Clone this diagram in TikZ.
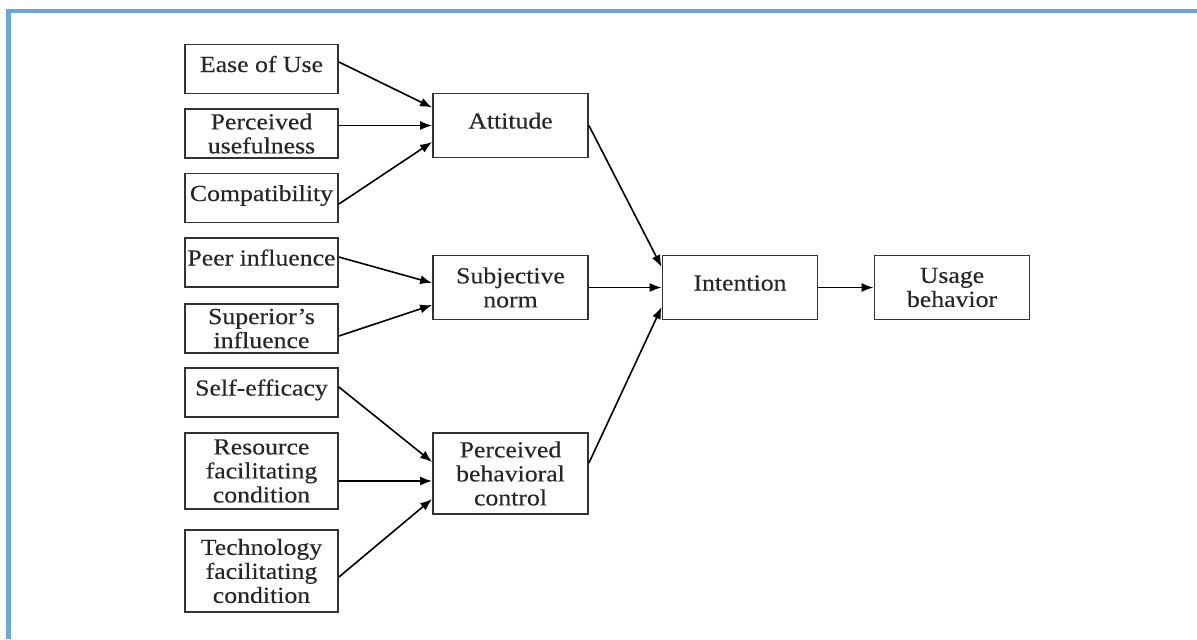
\documentclass[tikz,border=0pt]{standalone}
\usepackage{fontspec}
\setmainfont{Liberation Serif}[FakeStretch=1.12, FakeBold=0.3]
\usetikzlibrary{arrows.meta}
\definecolor{framebl}{RGB}{108,166,222}

\begin{document}
\begin{tikzpicture}[x=0.5pt, y=-0.5pt,
      box/.style={draw=black!80, line width=0.9pt, rectangle, align=center, inner sep=1pt, text=black!85, font=\fontsize{11.5}{12}\selectfont},
      oneline/.style={text height=8pt, text depth=5pt},
      factor/.style={box, minimum width=76.5pt, minimum height=24.5pt},
      construct/.style={box, minimum width=77.5pt, minimum height=32pt},
      arr/.style={-{Latex[length=6pt,width=4.5pt]}, line width=0.8pt}]
  \useasboundingbox (0,0) rectangle (1197,639);
  % frame
  \draw[framebl, line width=2.4pt] (8.5,639) -- (8.5,11) -- (1197,11);

  % left column
  \node[factor, oneline] (ease) at (261.5,69) {Ease of Use};
  \node[factor] (useful) at (261.5,133.5) {Perceived\\usefulness};
  \node[factor, oneline] (compat) at (261.5,198) {Compatibility};
  \node[factor, oneline] (peer) at (261.5,262.5) {Peer influence};
  \node[factor] (superior) at (261.5,328.5) {Superior's\\influence};
  \node[factor, oneline] (selfeff) at (261.5,392.5) {Self-efficacy};
  \node[factor, minimum height=38pt] (resource) at (261.5,471) {Resource\\facilitating\\condition};
  \node[factor, minimum height=41pt] (tech) at (261.5,571) {Technology\\facilitating\\condition};

  % middle column
  \node[construct, oneline] (att) at (510.5,125.5) {Attitude};
  \node[construct] (subj) at (510.5,287.5) {Subjective\\norm};
  \node[construct, minimum height=40.5pt] (pbc) at (510.5,473.5) {Perceived\\behavioral\\control};

  \node[construct, oneline] (int) at (740,287.5) {Intention};
  \node[construct] (usage) at (952,287.5) {Usage\\behavior};

  % arrows
  \draw[arr] ([yshift=3.5pt]ease.east) -- ([yshift=9pt]att.west);
  \draw[arr] (useful.east |- att.west) -- (att.west);
  \draw[arr] ([yshift=-3pt]compat.east) -- ([yshift=-8.25pt]att.west);
  \draw[arr] ([yshift=2.75pt]peer.east) -- ([yshift=2.25pt]subj.west);
  \draw[arr] ([yshift=-3.75pt]superior.east) -- ([yshift=-8.75pt]subj.west);
  \draw[arr] ([yshift=2.75pt]selfeff.east) -- ([yshift=5.75pt]pbc.west);
  \draw[arr] ([yshift=-5pt]resource.east) -- ([yshift=-3.75pt]pbc.west);
  \draw[arr] ([yshift=-3pt]tech.east) -- ([yshift=-12.75pt]pbc.west);
  \draw[arr] (att.east) -- ([yshift=10.25pt]int.west);
  \draw[arr] (subj.east) -- (int.west);
  \draw[arr] ([yshift=5.25pt]pbc.east) -- ([yshift=-9.75pt]int.west);
  \draw[arr] (int.east) -- (usage.west);
\end{tikzpicture}
\end{document}
